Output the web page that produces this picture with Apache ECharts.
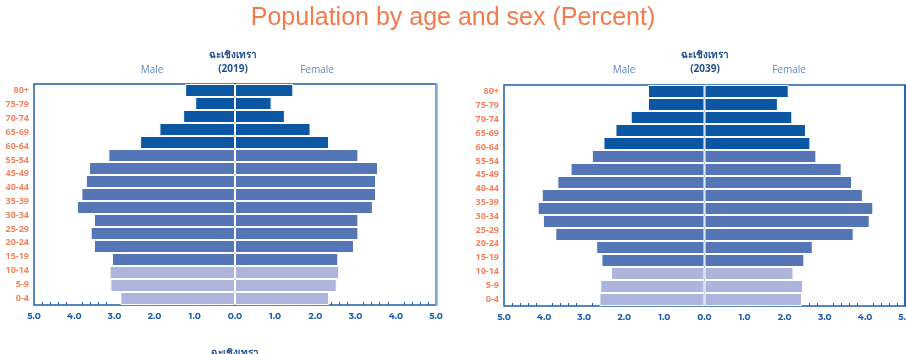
<!DOCTYPE html>
<html>
<head>
<meta charset="utf-8">
<script src="https://cdn.jsdelivr.net/npm/echarts@6/dist/echarts.min.js"></script>
<style>
  html, body { margin: 0; padding: 0; background: #fff; }
  #main { width: 906px; height: 354px; }
</style>
</head>
<body>
<div id="main"></div>
<script>
// 17 bar rows, top to bottom
var ageGroups = ['80+', '75-79', '70-74', '65-69', '60-64', '55-59', '50-54', '45-49', '40-44',
    '35-39', '30-34', '25-29', '20-24', '15-19', '10-14', '5-9', '0-4'];
// the picture only prints 16 labels (55-59 / 50-54 shown as one "55-54")
var ageLabels = ['80+', '75-79', '70-74', '65-69', '60-64', '55-54', '45-49', '40-44',
    '35-39', '30-34', '25-29', '20-24', '15-19', '10-14', '5-9', '0-4'];
// 0 = old, 1 = working age, 2 = children
var ageBand = [0, 0, 0, 0, 0, 1, 1, 1, 1, 1, 1, 1, 1, 1, 2, 2, 2];

var male2019 = [1.24, 0.99, 1.29, 1.88, 2.36, 3.15, 3.63, 3.71, 3.82, 3.93, 3.51, 3.59, 3.51, 3.06, 3.12, 3.10, 2.85];
var female2019 = [1.45, 0.91, 1.24, 1.88, 2.34, 3.07, 3.56, 3.51, 3.51, 3.43, 3.07, 3.07, 2.96, 2.57, 2.59, 2.53, 2.34];
var male2039 = [1.41, 1.41, 1.84, 2.22, 2.52, 2.81, 3.34, 3.67, 4.06, 4.16, 4.03, 3.72, 2.70, 2.57, 2.33, 2.60, 2.62];
var female2039 = [2.10, 1.83, 2.19, 2.53, 2.64, 2.79, 3.42, 3.68, 3.95, 4.21, 4.12, 3.72, 2.70, 2.49, 2.22, 2.46, 2.43];

var bandColors = ['#0b57a4', '#5476b6', '#adb5dc'];
var province = 'ฉะเชิงเทรา';
var fontThai = '"Noto Sans", "DejaVu Sans", sans-serif';

var grids = [
    { left: 34, top: 84, width: 402, height: 221 },
    { left: 504, top: 85, width: 401, height: 221 }
];

function xAxisFor(i) {
    return {
        type: 'value', gridIndex: i, min: -5, max: 5, interval: 1,
        axisLine: { lineStyle: { color: '#1a5fa8', width: 2 } },
        axisTick: { inside: true, length: 4, lineStyle: { color: '#1a5fa8' } },
        minorTick: { show: true, splitNumber: 5, length: 3, lineStyle: { color: '#1a5fa8' } },
        splitLine: { show: false },
        axisLabel: {
            color: '#1f5fa8', fontWeight: 'bold', fontSize: 9, margin: 7,
            fontFamily: 'Montserrat, "Open Sans", sans-serif',
            formatter: function (v) { return Math.abs(v).toFixed(1); }
        }
    };
}

function barAxisFor(i, lineColor) {
    return {
        type: 'category', gridIndex: i, data: ageGroups, inverse: true,
        axisLine: { lineStyle: { color: lineColor, width: 2 } },
        axisTick: { inside: true, length: 4, alignWithLabel: true, lineStyle: { color: '#3d7cc0' } },
        axisLabel: { show: false }
    };
}

function labelAxisFor(i) {
    return {
        type: 'category', gridIndex: i, data: ageLabels, inverse: true, position: 'left',
        axisLine: { show: false }, axisTick: { show: false },
        axisLabel: { color: '#f4845f', fontWeight: 'bold', fontSize: 9, margin: 5, fontFamily: '"Open Sans", sans-serif' }
    };
}

function barSeries(name, values, sign, gridIdx) {
    return {
        name: name, type: 'bar',
        xAxisIndex: gridIdx, yAxisIndex: gridIdx * 3,
        barGap: '-100%', barCategoryGap: '0%',
        data: values.map(function (v) { return v * sign; }),
        itemStyle: {
            borderColor: '#fff', borderWidth: 1,
            color: function (p) { return bandColors[ageBand[p.dataIndex]]; }
        },
        silent: true
    };
}

function header(cx, year) {
    return [
        { type: 'text', x: cx, y: 55, style: { text: province, fill: '#1f4f8f', font: 'bold 10px ' + fontThai, textAlign: 'center', textVerticalAlign: 'middle' } },
        { type: 'text', x: cx, y: 69, style: { text: '(' + year + ')', fill: '#1f4f8f', font: 'bold 10px "Open Sans", sans-serif', textAlign: 'center', textVerticalAlign: 'middle' } },
        { type: 'text', x: cx - 81, y: 70, style: { text: 'Male', fill: '#5d8ac4', font: '10px "Open Sans", sans-serif', textAlign: 'center', textVerticalAlign: 'middle' } },
        { type: 'text', x: cx + 84, y: 70, style: { text: 'Female', fill: '#5d8ac4', font: '10px "Open Sans", sans-serif', textAlign: 'center', textVerticalAlign: 'middle' } }
    ];
}

var chart = echarts.init(document.getElementById('main'));
chart.setOption({
    animation: false,
    grid: grids.map(function (g) {
        return {
            left: g.left, top: g.top, width: g.width, height: g.height,
            outerBoundsMode: 'none', containLabel: false,
            show: true, borderColor: '#1a5fa8', borderWidth: 1.5
        };
    }),
    xAxis: [xAxisFor(0), xAxisFor(1)],
    yAxis: [
        barAxisFor(0, '#1a5fa8'), labelAxisFor(0),
        { type: 'category', gridIndex: 0, data: ageGroups, position: 'right', axisLine: { lineStyle: { color: '#86acd8', width: 2.5 } }, axisTick: { show: false }, axisLabel: { show: false } },
        barAxisFor(1, '#6a9bd1'), labelAxisFor(1),
        { type: 'category', gridIndex: 1, data: ageGroups, position: 'right', axisLine: { lineStyle: { color: '#1a5fa8', width: 1.5 } }, axisTick: { show: false }, axisLabel: { show: false } }
    ],
    series: [
        barSeries('Male 2019', male2019, -1, 0),
        barSeries('Female 2019', female2019, 1, 0),
        barSeries('Male 2039', male2039, -1, 1),
        barSeries('Female 2039', female2039, 1, 1)
    ],
    graphic: [
        { type: 'text', x: 453, y: 18, style: { text: 'Population by age and sex (Percent)', fill: '#f47a4c', font: '25px "Liberation Sans", Arial, sans-serif', textAlign: 'center', textVerticalAlign: 'middle' } }
    ].concat(header(233, 2019), header(705, 2039), [
        { type: 'text', x: 235, y: 353, style: { text: province, fill: '#1f4f8f', font: 'bold 10px ' + fontThai, textAlign: 'center', textVerticalAlign: 'middle' } }
    ])
});
</script>
</body>
</html>
